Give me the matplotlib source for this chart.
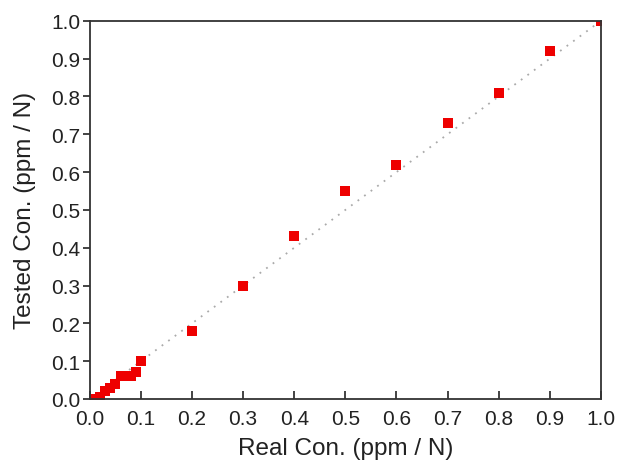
import matplotlib
matplotlib.use("Agg")
import matplotlib.pyplot as plt

plt.rcParams['font.family'] = ['Liberation Sans', 'DejaVu Sans']

real = [0, 0.01, 0.02, 0.03, 0.04, 0.05, 0.06, 0.07, 0.08, 0.09, 0.1,
        0.2, 0.3, 0.4, 0.5, 0.6, 0.7, 0.8, 0.9, 1.0]
tested = [0, 0, 0.005, 0.02, 0.03, 0.04, 0.06, 0.06, 0.06, 0.07, 0.1,
          0.18, 0.30, 0.43, 0.55, 0.62, 0.73, 0.81, 0.92, 1.0]
ticks = [0.0, 0.1, 0.2, 0.3, 0.4, 0.5, 0.6, 0.7, 0.8, 0.9, 1.0]

fig = plt.figure(figsize=(6.24, 4.64), dpi=100)
ax = fig.add_axes([0.144, 0.138, 0.819, 0.815])

# ideal line y = x
ax.plot([0, 1], [0, 1], linestyle=(0, (1, 3.5)), color='#aaaaaa', lw=1.3, zorder=1)
ax.plot(real, tested, 's', color='#ee0000', markersize=7, markeredgewidth=0, zorder=2)

ax.set_xlim(0, 1)
ax.set_ylim(0, 1)
ax.set_xticks(ticks)
ax.set_yticks(ticks)
ax.set_xticklabels([f"{t:.1f}" for t in ticks])
ax.set_yticklabels([f"{t:.1f}" for t in ticks])
ax.tick_params(axis='x', direction='in', length=6, width=1.2, labelsize=15, pad=7, colors='#222222')
ax.tick_params(axis='y', direction='out', length=5, width=1.2, labelsize=15, pad=2, colors='#222222')
for s in ax.spines.values():
    s.set_linewidth(1.3)
    s.set_color('#333333')

ax.set_xlabel("Real Con. (ppm / N)", fontsize=17.5, color='#222222', labelpad=7)
ax.set_ylabel("Tested Con. (ppm / N)", fontsize=17.5, color='#222222', labelpad=11)

fig.savefig("out.png", dpi=100)
